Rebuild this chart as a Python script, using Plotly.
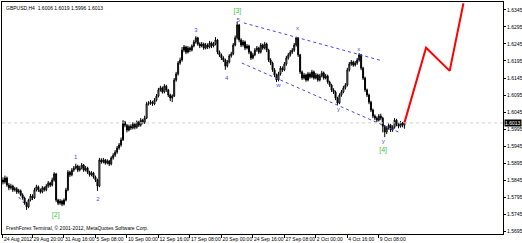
import plotly.graph_objects as go

symbol_header = "GBPUSD,H4  1.6006 1.6019 1.5996 1.6013"
copyright_text = "FreshForex Terminal, © 2001-2012, MetaQuotes Software Corp."

first_open = 1.5845
closes = [
    1.5839, 1.5851, 1.5830, 1.5822, 1.5827, 1.5816, 1.5819, 1.5810, 1.5813, 1.5801,
    1.5792, 1.5777, 1.5766, 1.5786, 1.5798, 1.5792, 1.5816, 1.5825, 1.5816, 1.5810,
    1.5822, 1.5816, 1.5827, 1.5836, 1.5830, 1.5845, 1.5863, 1.5786, 1.5777, 1.5783,
    1.5774, 1.5786, 1.5816, 1.5868, 1.5860, 1.5874, 1.5880, 1.5886, 1.5874, 1.5880,
    1.5889, 1.5874, 1.5880, 1.5868, 1.5860, 1.5866, 1.5854, 1.5845, 1.5827, 1.5904,
    1.5898, 1.5904, 1.5895, 1.5901, 1.5892, 1.5910, 1.5918, 1.5927, 1.5939, 1.5948,
    1.5963, 1.6015, 1.6006, 1.5992, 1.6003, 1.5998, 1.6009, 1.6000, 1.6015, 1.6006,
    1.6021, 1.6015, 1.6027, 1.6069, 1.6071, 1.6074, 1.6069, 1.6080, 1.6092, 1.6110,
    1.6116, 1.6104, 1.6121, 1.6110, 1.6095, 1.6086, 1.6092, 1.6139, 1.6157, 1.6189,
    1.6198, 1.6227, 1.6236, 1.6221, 1.6233, 1.6227, 1.6239, 1.6251, 1.6263, 1.6245,
    1.6239, 1.6245, 1.6233, 1.6242, 1.6236, 1.6248, 1.6239, 1.6245, 1.6257, 1.6221,
    1.6213, 1.6204, 1.6198, 1.6180, 1.6192, 1.6210, 1.6216, 1.6242, 1.6263, 1.6301,
    1.6257, 1.6242, 1.6251, 1.6233, 1.6239, 1.6221, 1.6204, 1.6213, 1.6227, 1.6233,
    1.6221, 1.6242, 1.6233, 1.6245, 1.6227, 1.6198, 1.6189, 1.6169, 1.6154, 1.6139,
    1.6157, 1.6174, 1.6169, 1.6186, 1.6204, 1.6213, 1.6221, 1.6227, 1.6242, 1.6263,
    1.6213, 1.6163, 1.6145, 1.6154, 1.6139, 1.6157, 1.6148, 1.6163, 1.6145, 1.6154,
    1.6139, 1.6151, 1.6160, 1.6145, 1.6151, 1.6133, 1.6124, 1.6110, 1.6104, 1.6086,
    1.6071, 1.6095, 1.6104, 1.6116, 1.6124, 1.6169, 1.6186, 1.6192, 1.6183, 1.6189,
    1.6198, 1.6213, 1.6174, 1.6145, 1.6110, 1.6095, 1.6074, 1.6051, 1.6033, 1.6027,
    1.6021, 1.6033, 1.6027, 1.6003, 1.5986, 1.5998, 1.6006, 1.5992, 1.6000, 1.6021,
    1.6009, 1.6003, 1.6012, 1.6006, 1.6013,
]
highs = [
    1.5853, 1.5858, 1.5855, 1.5836, 1.5834, 1.5831, 1.5825, 1.5824, 1.5819, 1.5817,
    1.5806, 1.5796, 1.5781, 1.5790, 1.5804, 1.5803, 1.5822, 1.5831, 1.5829, 1.5820,
    1.5827, 1.5826, 1.5833, 1.5842, 1.5840, 1.5852, 1.5868, 1.5866, 1.5790, 1.5789,
    1.5787, 1.5791, 1.5822, 1.5874, 1.5872, 1.5880, 1.5886, 1.5893, 1.5890, 1.5887,
    1.5895, 1.5892, 1.5886, 1.5884, 1.5872, 1.5871, 1.5869, 1.5858, 1.5849, 1.5910,
    1.5909, 1.5910, 1.5907, 1.5906, 1.5904, 1.5915, 1.5924, 1.5933, 1.5945, 1.5954,
    1.5970, 1.6021, 1.6019, 1.6010, 1.6008, 1.6009, 1.6015, 1.6013, 1.6020, 1.6019,
    1.6027, 1.6025, 1.6034, 1.6075, 1.6077, 1.6080, 1.6078, 1.6086, 1.6098, 1.6116,
    1.6122, 1.6120, 1.6127, 1.6125, 1.6113, 1.6099, 1.6097, 1.6145, 1.6163, 1.6195,
    1.6205, 1.6236, 1.6242, 1.6240, 1.6239, 1.6237, 1.6244, 1.6257, 1.6268, 1.6266,
    1.6250, 1.6251, 1.6249, 1.6248, 1.6247, 1.6254, 1.6252, 1.6251, 1.6265, 1.6260,
    1.6226, 1.6217, 1.6209, 1.6202, 1.6198, 1.6215, 1.6222, 1.6248, 1.6270, 1.6310,
    1.6304, 1.6262, 1.6257, 1.6255, 1.6245, 1.6243, 1.6225, 1.6219, 1.6233, 1.6239,
    1.6237, 1.6248, 1.6246, 1.6251, 1.6249, 1.6231, 1.6203, 1.6193, 1.6174, 1.6158,
    1.6163, 1.6180, 1.6179, 1.6192, 1.6210, 1.6219, 1.6227, 1.6233, 1.6248, 1.6266,
    1.6265, 1.6216, 1.6167, 1.6160, 1.6158, 1.6163, 1.6162, 1.6169, 1.6167, 1.6160,
    1.6158, 1.6157, 1.6166, 1.6164, 1.6157, 1.6155, 1.6137, 1.6128, 1.6115, 1.6108,
    1.6090, 1.6100, 1.6110, 1.6122, 1.6130, 1.6175, 1.6192, 1.6198, 1.6196, 1.6195,
    1.6204, 1.6218, 1.6216, 1.6178, 1.6149, 1.6114, 1.6099, 1.6078, 1.6055, 1.6038,
    1.6032, 1.6039, 1.6040, 1.6031, 1.6007, 1.6004, 1.6012, 1.6010, 1.6006, 1.6027,
    1.6025, 1.6014, 1.6018, 1.6016, 1.6019,
]
lows = [
    1.5832, 1.5834, 1.5825, 1.5815, 1.5817, 1.5810, 1.5811, 1.5804, 1.5805, 1.5797,
    1.5787, 1.5772, 1.5757, 1.5762, 1.5782, 1.5786, 1.5789, 1.5811, 1.5810, 1.5805,
    1.5806, 1.5811, 1.5812, 1.5822, 1.5824, 1.5826, 1.5840, 1.5780, 1.5771, 1.5772,
    1.5768, 1.5770, 1.5782, 1.5812, 1.5854, 1.5856, 1.5869, 1.5876, 1.5868, 1.5870,
    1.5876, 1.5869, 1.5870, 1.5863, 1.5855, 1.5856, 1.5849, 1.5839, 1.5813, 1.5824,
    1.5893, 1.5894, 1.5890, 1.5891, 1.5886, 1.5888, 1.5905, 1.5913, 1.5922, 1.5934,
    1.5943, 1.5960, 1.6000, 1.5985, 1.5988, 1.5992, 1.5994, 1.5994, 1.5996, 1.6001,
    1.6002, 1.6009, 1.6010, 1.6024, 1.6064, 1.6066, 1.6063, 1.6065, 1.6076, 1.6088,
    1.6105, 1.6099, 1.6100, 1.6104, 1.6089, 1.6077, 1.6074, 1.6089, 1.6134, 1.6152,
    1.6184, 1.6193, 1.6221, 1.6215, 1.6217, 1.6221, 1.6223, 1.6235, 1.6246, 1.6240,
    1.6233, 1.6235, 1.6228, 1.6229, 1.6230, 1.6232, 1.6233, 1.6235, 1.6241, 1.6215,
    1.6207, 1.6198, 1.6192, 1.6169, 1.6176, 1.6188, 1.6205, 1.6212, 1.6238, 1.6258,
    1.6250, 1.6236, 1.6237, 1.6227, 1.6229, 1.6215, 1.6198, 1.6200, 1.6209, 1.6222,
    1.6216, 1.6217, 1.6228, 1.6229, 1.6221, 1.6192, 1.6183, 1.6163, 1.6148, 1.6133,
    1.6135, 1.6152, 1.6163, 1.6165, 1.6181, 1.6199, 1.6208, 1.6216, 1.6222, 1.6237,
    1.6207, 1.6157, 1.6139, 1.6140, 1.6134, 1.6135, 1.6143, 1.6144, 1.6140, 1.6141,
    1.6134, 1.6135, 1.6147, 1.6140, 1.6141, 1.6128, 1.6119, 1.6104, 1.6098, 1.6080,
    1.6066, 1.6068, 1.6090, 1.6100, 1.6111, 1.6120, 1.6164, 1.6181, 1.6178, 1.6179,
    1.6184, 1.6193, 1.6168, 1.6139, 1.6104, 1.6089, 1.6068, 1.6045, 1.6027, 1.6021,
    1.6015, 1.6017, 1.6021, 1.5985, 1.5971, 1.5980, 1.5993, 1.5986, 1.5987, 1.5996,
    1.6003, 1.5997, 1.5999, 1.6000, 1.5996,
]
bar_index = list(range(len(closes)))
opens = [first_open] + closes[:-1]

date_tick_index = [0, 15, 31, 47, 63, 79, 95, 111, 127, 143, 159, 175, 191]
date_tick_labels = ["24 Aug 2012", "29 Aug 20:00", "31 Aug 16:00", "5 Sep 08:00",
                    "10 Sep 00:00", "12 Sep 16:00", "17 Sep 08:00", "20 Sep 00:00",
                    "24 Sep 16:00", "27 Sep 08:00", "2 Oct 00:00", "4 Oct 16:00",
                    "9 Oct 08:00"]
price_ticks = [1.5695, 1.5745, 1.5795, 1.5845, 1.5895, 1.5945, 1.5995,
               1.6045, 1.6095, 1.6145, 1.6195, 1.6245, 1.6295, 1.6345]
last_price = 1.6013

forecast_index = [204, 215, 227, 234]
forecast_price = [1.6013, 1.6234, 1.6166, 1.6365]

channel_upper_index = [122.4, 193.0]
channel_upper_price = [1.6307, 1.6195]
channel_lower_index = [121.4, 202.2]
channel_lower_price = [1.6189, 1.5983]
small_line_index = [8.0, 10.6]
small_line_price = [1.5795, 1.5777]

wave_text = ["1", "2", "3", "4", "5", "w", "x", "y", "x", "y"]
wave_index = [37.0, 48.3, 98.0, 113.7, 119.5, 140.0, 149.7, 170.5, 180.8, 193.2]
wave_price = [1.5911, 1.5789, 1.6286, 1.6144, 1.6314, 1.6124, 1.6291, 1.6051, 1.6230, 1.5958]
major_text = ["[2]", "[3]", "[4]"]
major_index = [26.8, 119.1, 193.2]
major_price = [1.5742, 1.6342, 1.5933]

FONT = "Liberation Sans, Arial, sans-serif"

fig = go.Figure()
fig.add_trace(go.Candlestick(
    x=bar_index, open=opens, high=highs, low=lows, close=closes,
    increasing=dict(line=dict(color="black", width=1), fillcolor="white"),
    decreasing=dict(line=dict(color="black", width=1), fillcolor="black"),
    whiskerwidth=0, showlegend=False, hoverinfo="skip"))

fig.add_trace(go.Scatter(x=channel_upper_index, y=channel_upper_price, mode="lines",
                         line=dict(color="#4848f0", width=1, dash="dot"), showlegend=False))
fig.add_trace(go.Scatter(x=channel_lower_index, y=channel_lower_price, mode="lines",
                         line=dict(color="#4848f0", width=1, dash="dot"), showlegend=False))
fig.add_trace(go.Scatter(x=small_line_index, y=small_line_price, mode="lines",
                         line=dict(color="#4848f0", width=1, dash="dot"), showlegend=False))
fig.add_trace(go.Scatter(x=forecast_index, y=forecast_price, mode="lines",
                         line=dict(color="#ff0000", width=2), showlegend=False, cliponaxis=True))
fig.add_trace(go.Scatter(x=wave_index, y=wave_price, mode="text", text=wave_text,
                         textfont=dict(family=FONT, size=6, color="#4a4ae6"), showlegend=False))
fig.add_trace(go.Scatter(x=major_index, y=major_price, mode="text", text=major_text,
                         textfont=dict(family=FONT, size=7, color="#3cc83c"), showlegend=False))

fig.add_hline(y=last_price, line=dict(color="#d0d0d0", width=1, dash="dot"))

fig.add_annotation(xref="paper", yref="y", x=1, y=last_price, xanchor="left", yanchor="middle",
                   xshift=1, text="1.6013", showarrow=False, bgcolor="black",
                   font=dict(family=FONT, size=5, color="white"), borderpad=0)
fig.add_annotation(xref="paper", yref="paper", x=0.004, y=0.995, xanchor="left", yanchor="top",
                   text=symbol_header, showarrow=False,
                   font=dict(family=FONT, size=5, color="black"))
fig.add_annotation(xref="paper", yref="paper", x=0.004, y=0.005, xanchor="left", yanchor="bottom",
                   text=copyright_text, showarrow=False,
                   font=dict(family=FONT, size=5, color="black"))

fig.update_layout(
    width=522, height=243, template="none",
    margin=dict(l=2, r=19, t=2, b=9, autoexpand=False),
    paper_bgcolor="white", plot_bgcolor="white",
    font=dict(family=FONT, size=5, color="black"),
    showlegend=False,
    xaxis=dict(range=[-0.5, 254.1], rangeslider=dict(visible=False),
               tickmode="array", tickvals=date_tick_index, ticktext=date_tick_labels,
               ticks="outside", ticklen=3, tickcolor="black", tickwidth=1,
               ticklabelposition="outside right", tickangle=0,
               showgrid=False, zeroline=False, showline=True, linecolor="black",
               linewidth=1, mirror=True, automargin=False,
               tickfont=dict(family=FONT, size=5, color="black")),
    yaxis=dict(range=[1.56862, 1.63685], side="right",
               tickmode="array", tickvals=price_ticks,
               ticktext=[f"{v:.4f}" for v in price_ticks],
               ticks="outside", ticklen=2, tickcolor="black", tickwidth=1,
               showgrid=False, zeroline=False, showline=True, linecolor="black",
               linewidth=1, mirror=True, automargin=False,
               tickfont=dict(family=FONT, size=5, color="black")),
)

fig.write_html("out.html")
